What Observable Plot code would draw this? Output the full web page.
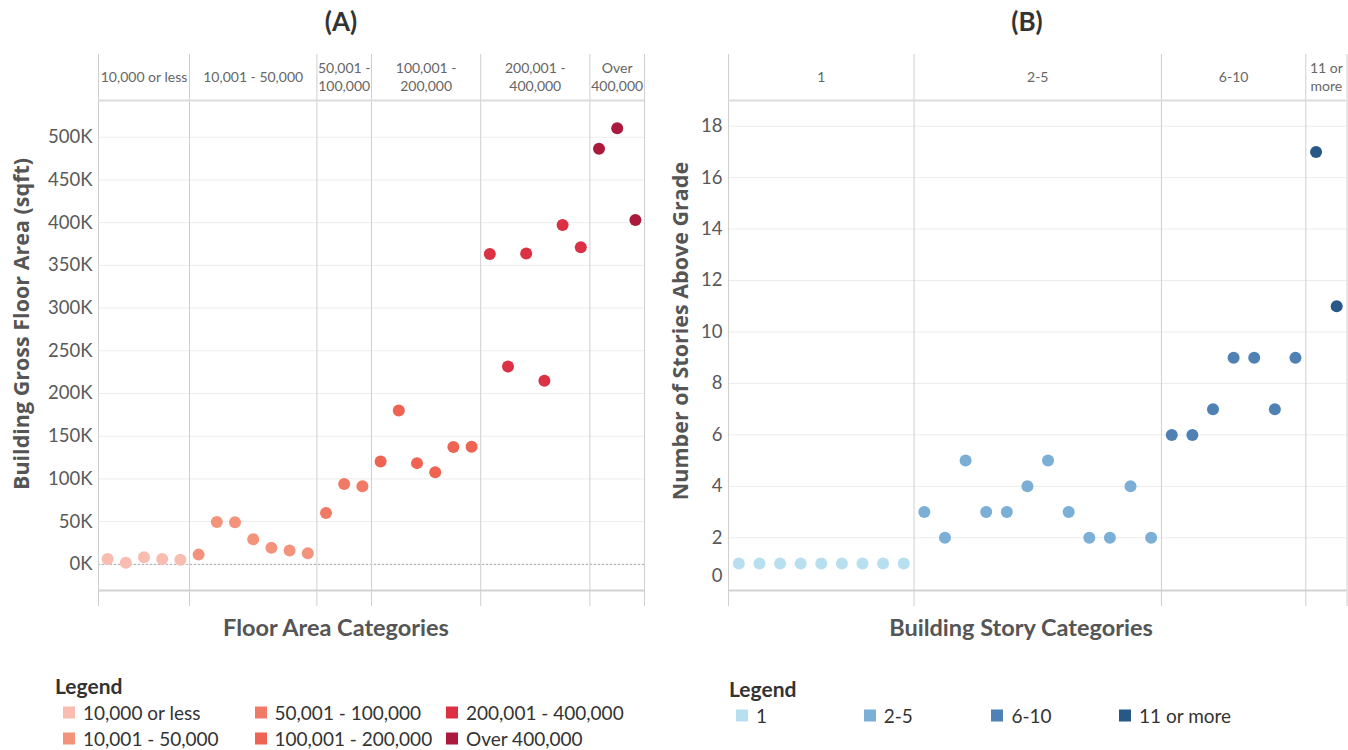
<!DOCTYPE html>
<html><head><meta charset="utf-8">
<script src="https://cdn.jsdelivr.net/npm/d3@7"></script>
<script src="https://cdn.jsdelivr.net/npm/@observablehq/plot@0.6"></script>
<style>
body{margin:0;background:#fff;font-family:Lato,"Noto Sans",sans-serif;}
#root{position:relative;width:1348px;height:750px;overflow:hidden;}
.abs{position:absolute;white-space:nowrap;}
.title{font-weight:bold;font-size:26px;color:#333;transform:translate(-50%,-50%);}
.xtitle{font-weight:bold;font-size:23.5px;color:#555;transform:translate(-50%,-50%);}
.ytitle{font-family:"Open Sans",sans-serif;font-weight:700;font-size:21.5px;line-height:1;color:#555;transform:translate(-50%,-50%) rotate(-90deg);}
.lgtitle{font-weight:bold;font-size:21px;color:#333;transform:translateY(-50%);}
.lgitem{font-size:19px;color:#333;transform:translateY(-50%);display:flex;align-items:center;}
.sw{width:12px;height:12px;margin-right:8px;display:inline-block;}
svg{overflow:visible;}
</style>
</head><body><div id="root"></div>
<script>
// ---------- data ----------
const areaCategories = ["10,000 or less","10,001 - 50,000","50,001 - 100,000","100,001 - 200,000","200,001 - 400,000","Over 400,000"];
const areaHeaders = ["10,000 or less","10,001 - 50,000","50,001 -\n100,000","100,001 -\n200,000","200,001 -\n400,000","Over\n400,000"];
const areaColors = ["#f8bcb0","#f4937c","#f17a66","#ef6352","#dc3044","#ab1a3c"];
const area1 = [6300, 2000, 8300, 6300, 5500];
const area2 = [11400, 49600, 49200, 29500, 19300, 16100, 13000];
const area3 = [60200, 94000, 91300];
const area4 = [120500, 180000, 118500, 107900, 137400, 137800];
const area5 = [363400, 231500, 363800, 215000, 397200, 371300];
const area6 = [486600, 510600, 403000];
const areaTicks = [0,50000,100000,150000,200000,250000,300000,350000,400000,450000,500000];
const areaDomain = [-30600, 543000];

const storyCategories = ["1","2-5","6-10","11 or more"];
const storyHeaders = ["1","2-5","6-10","11 or\nmore"];
const storyColors = ["#b8dff0","#7bafd6","#4f81b4","#285887"];
const story1 = [1,1,1,1,1,1,1,1,1];
const story2 = [3,2,5,3,3,4,5,3,2,2,4,2];
const story3 = [6,6,7,9,9,7,9];
const story4 = [17,11];
const storyTicks = [2,4,6,8,10,12,14,16,18];
const storyDomain = [-0.05, 19];

// ---------- helpers ----------
function build(cats, headers, values){
  const pts=[], panes=[]; let i=0;
  cats.forEach((c,k)=>{
    const start=i;
    values[k].forEach(v=>{pts.push({cat:c, idx:i+0.5, value:v}); i++;});
    panes.push({cat:c, header:headers[k], start, end:i, mid:(start+i)/2});
  });
  const bounds=[0, ...panes.map(p=>p.end)];
  return {pts, panes, bounds, n:i};
}
const root = document.getElementById("root");
function div(cls, text, left, top){
  const d=document.createElement("div"); d.className="abs "+cls; d.textContent=text;
  d.style.left=left+"px"; d.style.top=top+"px"; root.appendChild(d); return d;
}
function panel(o){
  const {pts,panes,bounds,n}=build(o.cats,o.headers,o.values);
  const marks=[
    Plot.gridY(o.ticks,{stroke:"#ececec",strokeOpacity:1}),
    ...(o.zeroLine?[Plot.ruleY([0],{stroke:"#aaa",strokeDasharray:"2,2"})]:[]),
    Plot.ruleX(bounds,{x:d=>d,stroke:"#cfcfcf",insetTop:-46,insetBottom:-16}),
    Plot.ruleY([o.domain[1]],{stroke:"#dcdcdc",strokeWidth:2}),
    Plot.ruleY([o.domain[0]],{stroke:"#d2d2d2",strokeWidth:2}),
    Plot.axisY(o.ticks,{tickSize:0,tickPadding:6,tickFormat:o.fmt,fontSize:18.5,color:"#595959",label:null}),
    ...(o.extraTicks?[Plot.axisY(o.extraTicks,{tickSize:0,tickPadding:6,dy:-13,fontSize:18.5,color:"#595959",label:null})]:[]),
    Plot.text(panes,{x:"mid",text:"header",frameAnchor:"top",lineAnchor:"middle",dy:-24,fontSize:14,fill:"#666",lineHeight:1.29}),
    Plot.dot(pts,{x:"idx",y:"value",fill:"cat",r:6})
  ];
  const svg=Plot.plot({
    width:o.width,height:560,marginTop:48,marginBottom:22,marginLeft:o.ml,marginRight:o.mr,
    x:{domain:[0,n],axis:null},
    y:{domain:o.domain,axis:null},
    color:{domain:o.cats,range:o.colors},
    style:{fontFamily:"Lato",background:"transparent"},
    marks
  });
  svg.style.position="absolute"; svg.style.left=o.left+"px"; svg.style.top="52px";
  root.appendChild(svg);
}

panel({cats:areaCategories,headers:areaHeaders,values:[area1,area2,area3,area4,area5,area6],
  colors:areaColors,ticks:areaTicks,domain:areaDomain,fmt:d=>(d/1000)+"K",zeroLine:true,
  width:660,ml:98,mr:16,left:0});
panel({cats:storyCategories,headers:storyHeaders,values:[story1,story2,story3,story4],
  colors:storyColors,ticks:storyTicks,domain:storyDomain,fmt:d=>String(d),extraTicks:[0],
  width:688,ml:68,mr:1.5,left:660});

// titles
div("title","(A)",341,21);
div("title","(B)",1027,21);
div("xtitle","Floor Area Categories",336,627);
div("xtitle","Building Story Categories",1021,627);
div("ytitle","Building Gross Floor Area (sqft)",21,324);
div("ytitle","Number of Stories Above Grade",680,331);

// legends
div("lgtitle","Legend",55,685);
areaCategories.forEach((c,k)=>{
  const col=Math.floor(k/2), row=k%2;
  const d=div("lgitem","",63+col*191.5,712+row*26);
  const s=document.createElement("span"); s.className="sw"; s.style.background=areaColors[k];
  d.appendChild(s); d.appendChild(document.createTextNode(c));
});
div("lgtitle","Legend",729,688);
storyCategories.forEach((c,k)=>{
  const d=div("lgitem","",736+k*127.7,715);
  const s=document.createElement("span"); s.className="sw"; s.style.background=storyColors[k];
  d.appendChild(s); d.appendChild(document.createTextNode(c));
});
</script></body></html>
